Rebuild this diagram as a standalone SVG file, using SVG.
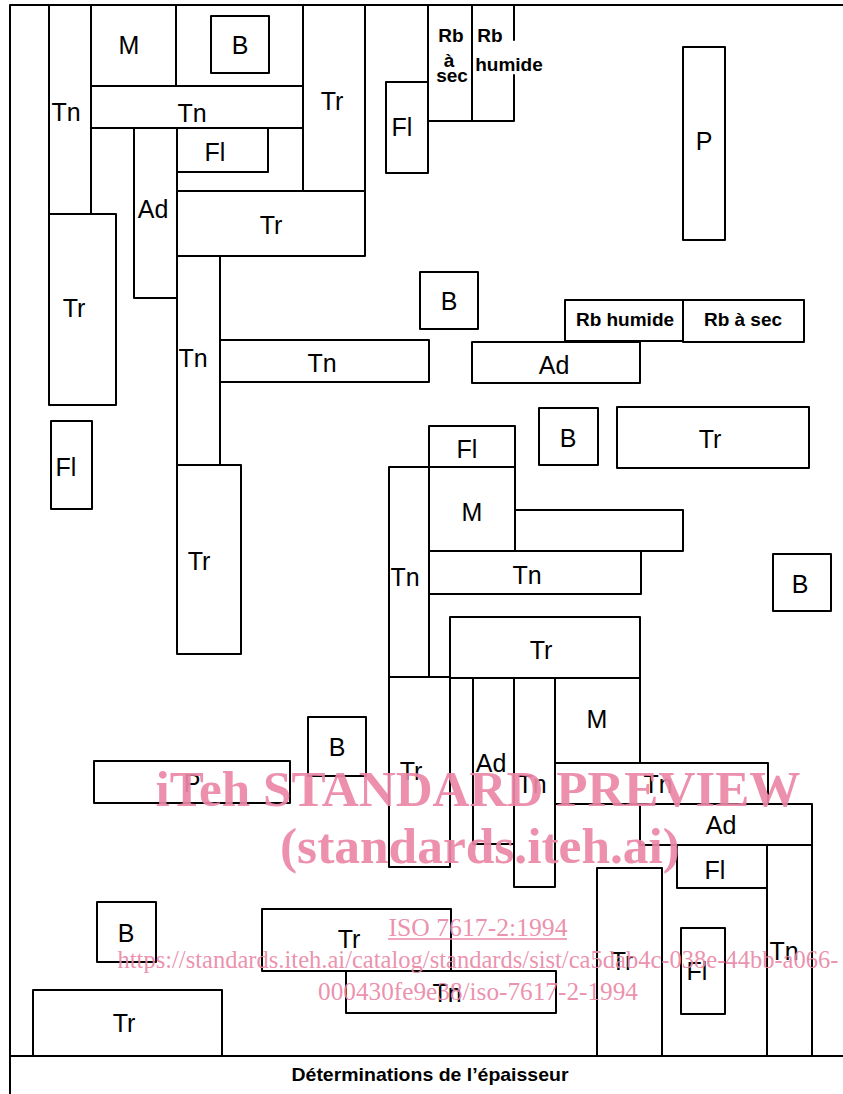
<svg xmlns="http://www.w3.org/2000/svg" width="843" height="1094" viewBox="0 0 843 1094">
<style>
.b{fill:none;stroke:#000;stroke-width:2;stroke-linejoin:round;stroke-linecap:round}
.l{font-family:"Liberation Sans Narrow","Liberation Sans",Arial,sans-serif;font-size:25px;text-anchor:middle;fill:#000}
.r{font-family:"Liberation Sans",Arial,sans-serif;font-weight:bold;font-size:19px;text-anchor:middle;fill:#000}
.w{font-family:"Liberation Serif","Times New Roman",serif;fill:#ea87a6;fill-opacity:0.92}
</style>
<rect x="0" y="0" width="843" height="1094" fill="#fff"/>
<g id="frame">
<path class="b" d="M10,1094 V5 H843 M10,1056 H843"/>
<text class="r" x="430" y="1081" textLength="277" lengthAdjust="spacingAndGlyphs">Déterminations de l’épaisseur</text>
</g>
<g id="tn1"><rect class="b" x="49" y="5" width="42" height="209"/><text class="l" x="66" y="121">Tn</text></g>
<g id="m1"><rect class="b" x="91" y="5" width="85" height="81"/><text class="l" x="129" y="54">M</text></g>
<g id="b1"><rect class="b" x="176" y="5" width="127" height="81"/><rect class="b" x="211" y="16" width="58" height="57"/><text class="l" x="240" y="54">B</text></g>
<g id="tn2"><rect class="b" x="91" y="86" width="212" height="42"/><text class="l" x="192" y="122">Tn</text></g>
<g id="tr1"><rect class="b" x="303" y="5" width="62" height="186"/><text class="l" x="332" y="110">Tr</text></g>
<g id="ad1"><rect class="b" x="134" y="128" width="43" height="170"/><text class="l" x="153" y="218">Ad</text></g>
<g id="fl1"><rect class="b" x="177" y="128" width="91" height="44"/><text class="l" x="215" y="161">Fl</text></g>
<g id="gap1"><path class="b" d="M177,172 V191 H303"/></g>
<g id="tr2"><rect class="b" x="177" y="191" width="188" height="65"/><text class="l" x="271" y="234">Tr</text></g>
<g id="tr3"><rect class="b" x="49" y="214" width="67" height="191"/><text class="l" x="74" y="317">Tr</text></g>
<g id="tn3"><rect class="b" x="177" y="256" width="43" height="209"/><text class="l" x="193" y="367">Tn</text></g>
<g id="tn4"><rect class="b" x="220" y="340" width="209" height="42"/><text class="l" x="322" y="372">Tn</text></g>
<g id="fl2"><rect class="b" x="51" y="421" width="41" height="88"/><text class="l" x="66" y="476">Fl</text></g>
<g id="tr4"><rect class="b" x="177" y="465" width="64" height="189"/><text class="l" x="199" y="570">Tr</text></g>
<g id="fl3"><rect class="b" x="386" y="82" width="42" height="91"/><text class="l" x="402" y="136">Fl</text></g>
<g id="rb1"><rect class="b" x="428" y="5" width="44" height="116"/><text class="r" x="451" y="42">Rb</text><text class="r" x="449" y="67">à</text><text class="r" x="452" y="82">sec</text></g>
<g id="rb2"><path class="b" d="M472,121 H514 V75 M514,40 V5"/><text class="r" x="490" y="42">Rb</text><text class="r" x="509" y="71">humide</text></g>
<g id="p1"><rect class="b" x="683" y="47" width="42" height="193"/><text class="l" x="704" y="150">P</text></g>
<g id="b2"><rect class="b" x="420" y="272" width="58" height="57"/><text class="l" x="449" y="310">B</text></g>
<g id="rb3"><rect class="b" x="565" y="300" width="118" height="41"/><text class="r" x="625" y="326">Rb humide</text></g>
<g id="rb4"><rect class="b" x="683" y="300" width="121" height="42"/><text class="r" x="743" y="326">Rb à sec</text></g>
<g id="ad2"><rect class="b" x="472" y="342" width="168" height="41"/><text class="l" x="554" y="374">Ad</text></g>
<g id="b3"><rect class="b" x="539" y="408" width="59" height="57"/><text class="l" x="568" y="447">B</text></g>
<g id="tr5"><rect class="b" x="617" y="407" width="192" height="61"/><text class="l" x="710" y="448">Tr</text></g>
<g id="fl4"><rect class="b" x="429" y="426" width="86" height="41"/><text class="l" x="467" y="458">Fl</text></g>
<g id="tn5"><rect class="b" x="389" y="467" width="40" height="210"/><text class="l" x="405" y="586">Tn</text></g>
<g id="m2"><rect class="b" x="429" y="467" width="86" height="84"/><text class="l" x="472" y="521">M</text></g>
<g id="e1"><rect class="b" x="515" y="510" width="168" height="41"/></g>
<g id="tn6"><rect class="b" x="429" y="551" width="212" height="43"/><text class="l" x="527" y="584">Tn</text></g>
<g id="b4"><rect class="b" x="773" y="554" width="58" height="57"/><text class="l" x="800" y="593">B</text></g>
<g id="tr6"><rect class="b" x="450" y="617" width="190" height="61"/><text class="l" x="541" y="659">Tr</text></g>
<g id="tr7"><rect class="b" x="389" y="677" width="61" height="190"/><text class="l" x="411" y="780">Tr</text></g>
<g id="ad3"><rect class="b" x="473" y="678" width="41" height="166"/><text class="l" x="491" y="772">Ad</text></g>
<g id="tn7"><rect class="b" x="514" y="678" width="41" height="209"/><text class="l" x="532" y="793">Tn</text></g>
<g id="m3"><rect class="b" x="555" y="678" width="85" height="85"/><text class="l" x="597" y="728">M</text></g>
<g id="tn8"><rect class="b" x="555" y="763" width="213" height="41"/><text class="l" x="658" y="793">Tn</text></g>
<g id="ad4"><rect class="b" x="640" y="804" width="172" height="41"/><text class="l" x="721" y="834">Ad</text></g>
<g id="fl5"><rect class="b" x="677" y="845" width="90" height="43"/><text class="l" x="715" y="879">Fl</text></g>
<g id="tn9"><rect class="b" x="767" y="845" width="45" height="211"/><text class="l" x="784" y="960">Tn</text></g>
<g id="fl6"><rect class="b" x="681" y="928" width="44" height="86"/><text class="l" x="697" y="980">Fl</text></g>
<g id="tr8"><rect class="b" x="597" y="868" width="65" height="188"/><text class="l" x="622" y="970">Tr</text></g>
<g id="b5"><rect class="b" x="308" y="717" width="58" height="59"/><text class="l" x="337" y="756">B</text></g>
<g id="p2"><rect class="b" x="94" y="761" width="196" height="42"/><text class="l" x="192" y="792">P</text></g>
<g id="b6"><rect class="b" x="97" y="902" width="59" height="60"/><text class="l" x="126" y="942">B</text></g>
<g id="tr9"><rect class="b" x="262" y="909" width="189" height="62"/><text class="l" x="349" y="948">Tr</text></g>
<g id="tn10"><rect class="b" x="346" y="971" width="210" height="42"/><text class="l" x="447" y="1002">Tn</text></g>
<g id="tr10"><rect class="b" x="33" y="990" width="189" height="66"/><text class="l" x="124" y="1032">Tr</text></g>
<g id="watermark">
<text class="w" x="478" y="806" font-size="50" font-weight="bold" text-anchor="middle" textLength="645" lengthAdjust="spacingAndGlyphs">iTeh STANDARD PREVIEW</text>
<text class="w" x="480" y="863" font-size="50" font-weight="bold" text-anchor="middle" textLength="400" lengthAdjust="spacingAndGlyphs">(standards.iteh.ai)</text>
<text class="w" x="478" y="936" font-size="26" text-anchor="middle" textLength="179" lengthAdjust="spacingAndGlyphs">ISO 7617-2:1994</text>
<line x1="388" y1="939" x2="567" y2="939" stroke="#ea87a6" stroke-width="1.3"/>
<text class="w" x="478" y="968" font-size="26" text-anchor="middle" textLength="721" lengthAdjust="spacingAndGlyphs">https://standards.iteh.ai/catalog/standards/sist/ca5dab4c-038e-44bb-a066-</text>
<text class="w" x="478" y="1000" font-size="26" text-anchor="middle" textLength="320" lengthAdjust="spacingAndGlyphs">000430fe9e38/iso-7617-2-1994</text>
</g>
</svg>
